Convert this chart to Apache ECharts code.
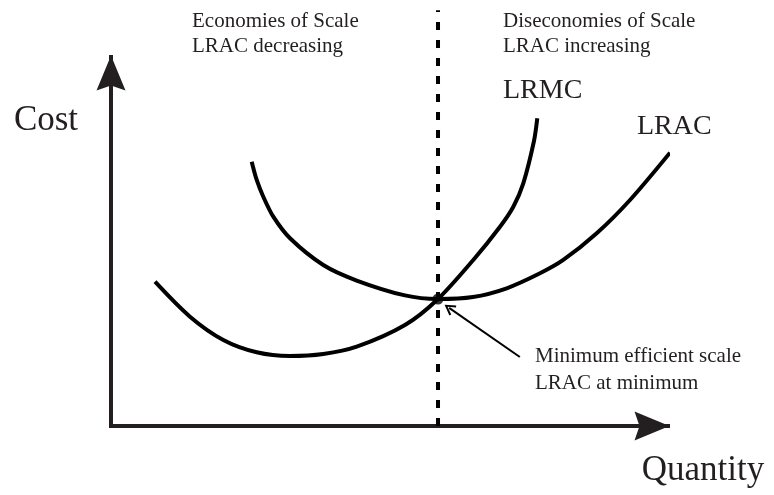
<!DOCTYPE html>
<html>
<head>
<meta charset="utf-8">
<script src="https://cdn.jsdelivr.net/npm/echarts@6/dist/echarts.min.js"></script>
<style>
html, body { margin: 0; padding: 0; background: #fff; }
#chart { width: 774px; height: 495px; }
</style>
</head>
<body>
<div id="chart"></div>
<script>
// points as [quantity, cost], both axes run 0-100
const lracData = [
    [25.26, 71.63], [26.16, 66.67], [27.34, 62.14], [29.14, 56.72], [32.14, 50.87],
    [38.11, 43.63], [44.11, 39.43], [52.78, 35.39], [58.71, 34.42], [64.99, 34.96],
    [71.04, 37.32], [77.02, 41.38], [81.20, 44.99], [87.20, 52.22], [93.18, 61.25],
    [100.36, 74.07]
];
const lrmcData = [
    [7.90, 39.11], [14.18, 29.62], [20.16, 23.31], [26.16, 19.97], [32.14, 18.97],
    [38.11, 19.51], [44.11, 21.49], [52.78, 27.37], [58.71, 34.42], [65.04, 44.99],
    [69.84, 54.01], [72.23, 59.43], [74.02, 65.77], [75.94, 77.24], [76.53, 83.39]
];
const minPoint = [58.71, 34.42];
const dashLine = [[58.71, 0], [58.71, 112.7]];
const noteFrom = [73.4, 18.7];
const noteTo = [60.7, 32.0];

const leftText = 'Economies of Scale\nLRAC decreasing';
const rightText = 'Diseconomies of Scale\nLRAC increasing';
const noteText = 'Minimum efficient scale\nLRAC at minimum';

const serif = "'Liberation Serif', 'DejaVu Serif', serif";
const ink = '#231f20';

const arrowHead = 'path://M14.5,0 L29,35 L14.5,30 L0,35 Z';
const chevron = 'path://M6,0 L12,10 L10.2,11 L6,3.6 L1.8,11 L0,10 Z';

const axisLine = {
    show: true,
    symbol: ['none', arrowHead],
    symbolSize: [29, 35],
    symbolOffset: [0, -16],
    lineStyle: {
        color: ink,
        width: 4,
        cap: 'square'
    }
};

const bareAxis = () => ({
    type: 'value',
    min: 0,
    max: 100,
    axisLine: axisLine,
    axisTick: { show: false },
    axisLabel: { show: false },
    splitLine: { show: false }
});

const curve = (name, data) => ({
    name: name,
    type: 'line',
    data: data,
    smooth: 0.3,
    showSymbol: false,
    clip: false,
    silent: true,
    z: 3,
    lineStyle: { color: '#000', width: 4 }
});

const text = (str, x, y, size, lh, align, va) => ({
    type: 'text',
    silent: true,
    style: {
        text: str,
        x: x,
        y: y,
        fill: ink,
        font: size + 'px ' + serif,
        lineHeight: lh,
        align: align || 'left',
        verticalAlign: va || 'top'
    }
});

const chart = echarts.init(document.getElementById('chart'));
chart.setOption({
    animation: false,
    backgroundColor: '#fff',
    grid: { left: 111, top: 57, width: 557, height: 369 },
    xAxis: bareAxis(),
    yAxis: bareAxis(),
    series: [
        {
            type: 'line',
            data: dashLine,
            showSymbol: false,
            clip: false,
            silent: true,
            z: 2,
            lineStyle: { color: '#000', width: 4, type: [8, 10] }
        },
        curve('LRAC', lracData),
        curve('LRMC', lrmcData),
        {
            type: 'scatter',
            data: [minPoint],
            symbolSize: 11,
            silent: true,
            z: 5,
            itemStyle: { color: '#000' },
            markLine: {
                silent: true,
                animation: false,
                label: { show: false },
                data: [
                    [
                        { coord: noteFrom, symbol: 'none', lineStyle: { type: 'solid', width: 2, color: '#000' } },
                        { coord: noteTo, symbol: chevron, symbolSize: [12, 11] }
                    ]
                ]
            }
        }
    ],
    graphic: [
        text(leftText, 192, 9, 21, 25),
        text(rightText, 503, 9, 21, 25),
        text(noteText, 535, 343, 21, 27),
        text('LRMC', 503, 91, 28, 30, 'left', 'middle'),
        text('LRAC', 637, 127, 28, 30, 'left', 'middle'),
        text('Cost', 46, 121, 35, 36, 'center', 'middle'),
        text('Quantity', 703, 471, 35, 36, 'center', 'middle')
    ]
});
</script>
</body>
</html>
